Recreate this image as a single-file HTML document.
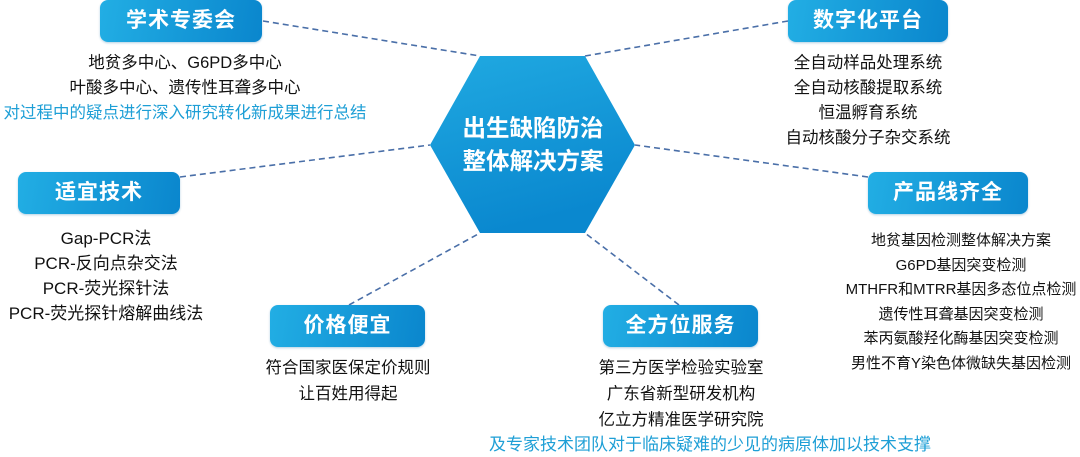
<!DOCTYPE html>
<html><head><meta charset="utf-8"><style>
body{margin:0;width:1080px;height:454px;background:#fff;position:relative;overflow:hidden;font-family:"Liberation Sans","Noto Sans CJK SC",sans-serif;}
.b{position:absolute;height:42px;border-radius:8px;background:linear-gradient(100deg,#22aee4,#0a86cd);color:#fff;font-weight:bold;font-size:21px;line-height:42px;text-align:center;letter-spacing:1px;box-shadow:0 1px 2px rgba(0,100,160,.3);}
.t{position:absolute;text-align:center;font-size:16.5px;color:#111;white-space:nowrap;transform:translateX(-50%);}
.t div{height:25px;line-height:25px;}
.bl{color:#1e9fd6;}
</style></head><body>
<svg width="1080" height="454" style="position:absolute;left:0;top:0">
<defs><linearGradient id="g" x1="0" y1="0" x2="0.3" y2="1"><stop offset="0" stop-color="#20a9e1"/><stop offset="1" stop-color="#0a88cf"/></linearGradient></defs>
<g stroke="#4a6fa8" stroke-width="1.6" stroke-dasharray="6,4" fill="none">
<line x1="263" y1="21" x2="480" y2="56"/>
<line x1="180" y1="177" x2="430" y2="145"/>
<line x1="788" y1="21" x2="585" y2="56"/>
<line x1="868" y1="177" x2="635" y2="145"/>
<line x1="349" y1="305" x2="480" y2="233"/>
<line x1="679" y1="305" x2="585" y2="233"/>
</g>
<polygon points="480,56 585,56 635,145 585,233 480,233 430,145" fill="url(#g)"/>
<text x="533" y="136" fill="#fff" font-size="23.5" font-weight="bold" text-anchor="middle" font-family="Liberation Sans,Noto Sans CJK SC,sans-serif">出生缺陷防治</text>
<text x="533" y="169" fill="#fff" font-size="23.5" font-weight="bold" text-anchor="middle" font-family="Liberation Sans,Noto Sans CJK SC,sans-serif">整体解决方案</text>
</svg>
<div class="b" style="left:100px;top:0;width:162px;">学术专委会</div>
<div class="b" style="left:18px;top:172px;width:162px;">适宜技术</div>
<div class="b" style="left:788px;top:0;width:160px;">数字化平台</div>
<div class="b" style="left:868px;top:172px;width:160px;">产品线齐全</div>
<div class="b" style="left:270px;top:305px;width:155px;">价格便宜</div>
<div class="b" style="left:603px;top:305px;width:155px;">全方位服务</div>

<div class="t" style="left:185px;top:51px;"><div>地贫多中心、G6PD多中心</div><div>叶酸多中心、遗传性耳聋多中心</div><div class="bl">对过程中的疑点进行深入研究转化新成果进行总结</div></div>
<div class="t" style="left:868px;top:51px;"><div>全自动样品处理系统</div><div>全自动核酸提取系统</div><div>恒温孵育系统</div><div>自动核酸分子杂交系统</div></div>
<div class="t" style="left:106px;top:226px;font-size:17px;"><div>Gap-PCR法</div><div>PCR-反向点杂交法</div><div>PCR-荧光探针法</div><div>PCR-荧光探针熔解曲线法</div></div>
<div class="t" style="left:961px;top:228px;font-size:15px;"><div style="height:24.6px">地贫基因检测整体解决方案</div><div style="height:24.6px">G6PD基因突变检测</div><div style="height:24.6px">MTHFR和MTRR基因多态位点检测</div><div style="height:24.6px">遗传性耳聋基因突变检测</div><div style="height:24.6px">苯丙氨酸羟化酶基因突变检测</div><div style="height:24.6px">男性不育Y染色体微缺失基因检测</div></div>
<div class="t" style="left:348px;top:355px;"><div style="height:26px;line-height:26px">符合国家医保定价规则</div><div style="height:26px;line-height:26px">让百姓用得起</div></div>
<div class="t" style="left:681px;top:355px;"><div style="height:26px;line-height:26px">第三方医学检验实验室</div><div style="height:26px;line-height:26px">广东省新型研发机构</div><div style="height:26px;line-height:26px">亿立方精准医学研究院</div></div>
<div class="t bl" style="left:710px;top:432px;font-size:17px;"><div>及专家技术团队对于临床疑难的少见的病原体加以技术支撑</div></div>
</body></html>
